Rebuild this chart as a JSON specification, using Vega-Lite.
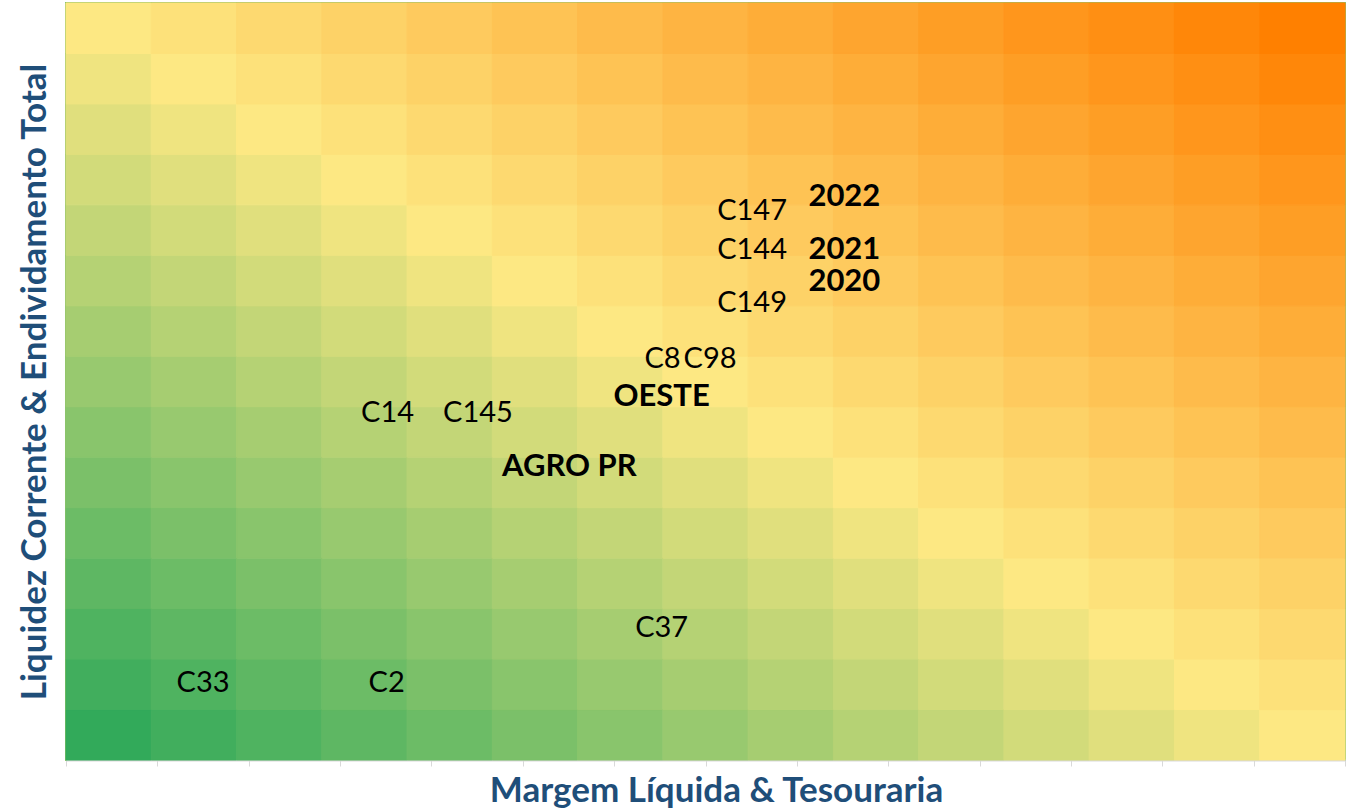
{
  "$schema": "https://vega.github.io/schema/vega-lite/v6.json",
  "width": 1279,
  "height": 757,
  "autosize": {"type": "none"},
  "padding": {"left": 66, "top": 3, "right": 13, "bottom": 48},
  "background": "white",
  "config": {"view": {"stroke": "#8DC26B", "strokeWidth": 2}, "font": "Lato"},
  "datasets": {
    "cells": [
      {"c":0,"r":0,"v":0},{"c":1,"r":0,"v":1},{"c":2,"r":0,"v":2},{"c":3,"r":0,"v":3},{"c":4,"r":0,"v":4},{"c":5,"r":0,"v":5},{"c":6,"r":0,"v":6},{"c":7,"r":0,"v":7},{"c":8,"r":0,"v":8},{"c":9,"r":0,"v":9},{"c":10,"r":0,"v":10},{"c":11,"r":0,"v":11},{"c":12,"r":0,"v":12},{"c":13,"r":0,"v":13},{"c":14,"r":0,"v":14},
      {"c":0,"r":1,"v":1},{"c":1,"r":1,"v":2},{"c":2,"r":1,"v":3},{"c":3,"r":1,"v":4},{"c":4,"r":1,"v":5},{"c":5,"r":1,"v":6},{"c":6,"r":1,"v":7},{"c":7,"r":1,"v":8},{"c":8,"r":1,"v":9},{"c":9,"r":1,"v":10},{"c":10,"r":1,"v":11},{"c":11,"r":1,"v":12},{"c":12,"r":1,"v":13},{"c":13,"r":1,"v":14},{"c":14,"r":1,"v":15},
      {"c":0,"r":2,"v":2},{"c":1,"r":2,"v":3},{"c":2,"r":2,"v":4},{"c":3,"r":2,"v":5},{"c":4,"r":2,"v":6},{"c":5,"r":2,"v":7},{"c":6,"r":2,"v":8},{"c":7,"r":2,"v":9},{"c":8,"r":2,"v":10},{"c":9,"r":2,"v":11},{"c":10,"r":2,"v":12},{"c":11,"r":2,"v":13},{"c":12,"r":2,"v":14},{"c":13,"r":2,"v":15},{"c":14,"r":2,"v":16},
      {"c":0,"r":3,"v":3},{"c":1,"r":3,"v":4},{"c":2,"r":3,"v":5},{"c":3,"r":3,"v":6},{"c":4,"r":3,"v":7},{"c":5,"r":3,"v":8},{"c":6,"r":3,"v":9},{"c":7,"r":3,"v":10},{"c":8,"r":3,"v":11},{"c":9,"r":3,"v":12},{"c":10,"r":3,"v":13},{"c":11,"r":3,"v":14},{"c":12,"r":3,"v":15},{"c":13,"r":3,"v":16},{"c":14,"r":3,"v":17},
      {"c":0,"r":4,"v":4},{"c":1,"r":4,"v":5},{"c":2,"r":4,"v":6},{"c":3,"r":4,"v":7},{"c":4,"r":4,"v":8},{"c":5,"r":4,"v":9},{"c":6,"r":4,"v":10},{"c":7,"r":4,"v":11},{"c":8,"r":4,"v":12},{"c":9,"r":4,"v":13},{"c":10,"r":4,"v":14},{"c":11,"r":4,"v":15},{"c":12,"r":4,"v":16},{"c":13,"r":4,"v":17},{"c":14,"r":4,"v":18},
      {"c":0,"r":5,"v":5},{"c":1,"r":5,"v":6},{"c":2,"r":5,"v":7},{"c":3,"r":5,"v":8},{"c":4,"r":5,"v":9},{"c":5,"r":5,"v":10},{"c":6,"r":5,"v":11},{"c":7,"r":5,"v":12},{"c":8,"r":5,"v":13},{"c":9,"r":5,"v":14},{"c":10,"r":5,"v":15},{"c":11,"r":5,"v":16},{"c":12,"r":5,"v":17},{"c":13,"r":5,"v":18},{"c":14,"r":5,"v":19},
      {"c":0,"r":6,"v":6},{"c":1,"r":6,"v":7},{"c":2,"r":6,"v":8},{"c":3,"r":6,"v":9},{"c":4,"r":6,"v":10},{"c":5,"r":6,"v":11},{"c":6,"r":6,"v":12},{"c":7,"r":6,"v":13},{"c":8,"r":6,"v":14},{"c":9,"r":6,"v":15},{"c":10,"r":6,"v":16},{"c":11,"r":6,"v":17},{"c":12,"r":6,"v":18},{"c":13,"r":6,"v":19},{"c":14,"r":6,"v":20},
      {"c":0,"r":7,"v":7},{"c":1,"r":7,"v":8},{"c":2,"r":7,"v":9},{"c":3,"r":7,"v":10},{"c":4,"r":7,"v":11},{"c":5,"r":7,"v":12},{"c":6,"r":7,"v":13},{"c":7,"r":7,"v":14},{"c":8,"r":7,"v":15},{"c":9,"r":7,"v":16},{"c":10,"r":7,"v":17},{"c":11,"r":7,"v":18},{"c":12,"r":7,"v":19},{"c":13,"r":7,"v":20},{"c":14,"r":7,"v":21},
      {"c":0,"r":8,"v":8},{"c":1,"r":8,"v":9},{"c":2,"r":8,"v":10},{"c":3,"r":8,"v":11},{"c":4,"r":8,"v":12},{"c":5,"r":8,"v":13},{"c":6,"r":8,"v":14},{"c":7,"r":8,"v":15},{"c":8,"r":8,"v":16},{"c":9,"r":8,"v":17},{"c":10,"r":8,"v":18},{"c":11,"r":8,"v":19},{"c":12,"r":8,"v":20},{"c":13,"r":8,"v":21},{"c":14,"r":8,"v":22},
      {"c":0,"r":9,"v":9},{"c":1,"r":9,"v":10},{"c":2,"r":9,"v":11},{"c":3,"r":9,"v":12},{"c":4,"r":9,"v":13},{"c":5,"r":9,"v":14},{"c":6,"r":9,"v":15},{"c":7,"r":9,"v":16},{"c":8,"r":9,"v":17},{"c":9,"r":9,"v":18},{"c":10,"r":9,"v":19},{"c":11,"r":9,"v":20},{"c":12,"r":9,"v":21},{"c":13,"r":9,"v":22},{"c":14,"r":9,"v":23},
      {"c":0,"r":10,"v":10},{"c":1,"r":10,"v":11},{"c":2,"r":10,"v":12},{"c":3,"r":10,"v":13},{"c":4,"r":10,"v":14},{"c":5,"r":10,"v":15},{"c":6,"r":10,"v":16},{"c":7,"r":10,"v":17},{"c":8,"r":10,"v":18},{"c":9,"r":10,"v":19},{"c":10,"r":10,"v":20},{"c":11,"r":10,"v":21},{"c":12,"r":10,"v":22},{"c":13,"r":10,"v":23},{"c":14,"r":10,"v":24},
      {"c":0,"r":11,"v":11},{"c":1,"r":11,"v":12},{"c":2,"r":11,"v":13},{"c":3,"r":11,"v":14},{"c":4,"r":11,"v":15},{"c":5,"r":11,"v":16},{"c":6,"r":11,"v":17},{"c":7,"r":11,"v":18},{"c":8,"r":11,"v":19},{"c":9,"r":11,"v":20},{"c":10,"r":11,"v":21},{"c":11,"r":11,"v":22},{"c":12,"r":11,"v":23},{"c":13,"r":11,"v":24},{"c":14,"r":11,"v":25},
      {"c":0,"r":12,"v":12},{"c":1,"r":12,"v":13},{"c":2,"r":12,"v":14},{"c":3,"r":12,"v":15},{"c":4,"r":12,"v":16},{"c":5,"r":12,"v":17},{"c":6,"r":12,"v":18},{"c":7,"r":12,"v":19},{"c":8,"r":12,"v":20},{"c":9,"r":12,"v":21},{"c":10,"r":12,"v":22},{"c":11,"r":12,"v":23},{"c":12,"r":12,"v":24},{"c":13,"r":12,"v":25},{"c":14,"r":12,"v":26},
      {"c":0,"r":13,"v":13},{"c":1,"r":13,"v":14},{"c":2,"r":13,"v":15},{"c":3,"r":13,"v":16},{"c":4,"r":13,"v":17},{"c":5,"r":13,"v":18},{"c":6,"r":13,"v":19},{"c":7,"r":13,"v":20},{"c":8,"r":13,"v":21},{"c":9,"r":13,"v":22},{"c":10,"r":13,"v":23},{"c":11,"r":13,"v":24},{"c":12,"r":13,"v":25},{"c":13,"r":13,"v":26},{"c":14,"r":13,"v":27},
      {"c":0,"r":14,"v":14},{"c":1,"r":14,"v":15},{"c":2,"r":14,"v":16},{"c":3,"r":14,"v":17},{"c":4,"r":14,"v":18},{"c":5,"r":14,"v":19},{"c":6,"r":14,"v":20},{"c":7,"r":14,"v":21},{"c":8,"r":14,"v":22},{"c":9,"r":14,"v":23},{"c":10,"r":14,"v":24},{"c":11,"r":14,"v":25},{"c":12,"r":14,"v":26},{"c":13,"r":14,"v":27},{"c":14,"r":14,"v":28}
    ],
    "labels": [
      {"label":"C147","x":7.51,"y":10.88,"kind":"n"},
      {"label":"C144","x":7.51,"y":10.10,"kind":"n"},
      {"label":"C149","x":7.51,"y":9.06,"kind":"n"},
      {"label":"C8","x":6.53,"y":7.95,"kind":"n"},
      {"label":"C98","x":7.05,"y":7.95,"kind":"n"},
      {"label":"C14","x":3.52,"y":6.88,"kind":"n"},
      {"label":"C145","x":4.51,"y":6.88,"kind":"n"},
      {"label":"C37","x":6.52,"y":2.62,"kind":"n"},
      {"label":"C33","x":1.50,"y":1.52,"kind":"n"},
      {"label":"C2","x":3.51,"y":1.52,"kind":"n"},
      {"label":"2022","x":8.52,"y":11.16,"kind":"b"},
      {"label":"2021","x":8.52,"y":10.10,"kind":"b"},
      {"label":"2020","x":8.52,"y":9.48,"kind":"b"},
      {"label":"OESTE","x":6.52,"y":7.20,"kind":"b"},
      {"label":"AGRO PR","x":5.51,"y":5.81,"kind":"b"}
    ]
  },
  "layer": [
    {
      "data": {"name": "cells"},
      "mark": {"type": "rect", "strokeWidth": 1},
      "encoding": {
        "x": {"field": "c", "type": "ordinal", "scale": {"paddingInner": 0, "paddingOuter": 0}, "axis": null},
        "y": {"field": "r", "type": "ordinal", "sort": "descending", "scale": {"paddingInner": 0, "paddingOuter": 0}, "axis": null},
        "color": {"field": "v", "type": "quantitative", "scale": {"domain": [0, 14, 28], "range": ["#32AA5A", "#FDE883", "#FF8000"], "interpolate": "rgb"}, "legend": null},
        "stroke": {"field": "v", "type": "quantitative", "scale": {"domain": [0, 14, 28], "range": ["#32AA5A", "#FDE883", "#FF8000"], "interpolate": "rgb"}, "legend": null}
      }
    },
    {
      "data": {"name": "labels"},
      "encoding": {
        "x": {"field": "x", "type": "quantitative", "scale": {"domain": [0, 14], "nice": false},
          "axis": {"title": "Margem Líquida & Tesouraria", "titleFont": "Lato", "titleFontSize": 35, "titleFontWeight": "bold", "titleColor": "#1F4E79", "titleX": 650, "labels": false, "ticks": true, "tickSize": 6, "tickColor": "#D9D9D9", "domainColor": "#D9D9D9", "domainWidth": 2, "grid": false, "values": [0,1,2,3,4,5,6,7,8,9,10,11,12,13,14], "titlePadding": 7}},
        "y": {"field": "y", "type": "quantitative", "scale": {"domain": [0, 15], "nice": false},
          "axis": {"title": "Liquidez Corrente & Endividamento Total", "titleFont": "Lato", "titleFontSize": 35, "titleFontWeight": "bold", "titleColor": "#1F4E79", "labels": false, "ticks": false, "domain": false, "grid": false, "titlePadding": 14}},
        "text": {"field": "label"}
      },
      "layer": [
        {"transform": [{"filter": "datum.kind == 'n'"}], "mark": {"type": "text", "font": "Lato", "fontSize": 29, "color": "#000000"}},
        {"transform": [{"filter": "datum.kind == 'b'"}], "mark": {"type": "text", "font": "Lato", "fontSize": 31, "fontWeight": "bold", "color": "#000000"}}
      ]
    }
  ],
  "resolve": {"scale": {"x": "independent", "y": "independent"}}
}
